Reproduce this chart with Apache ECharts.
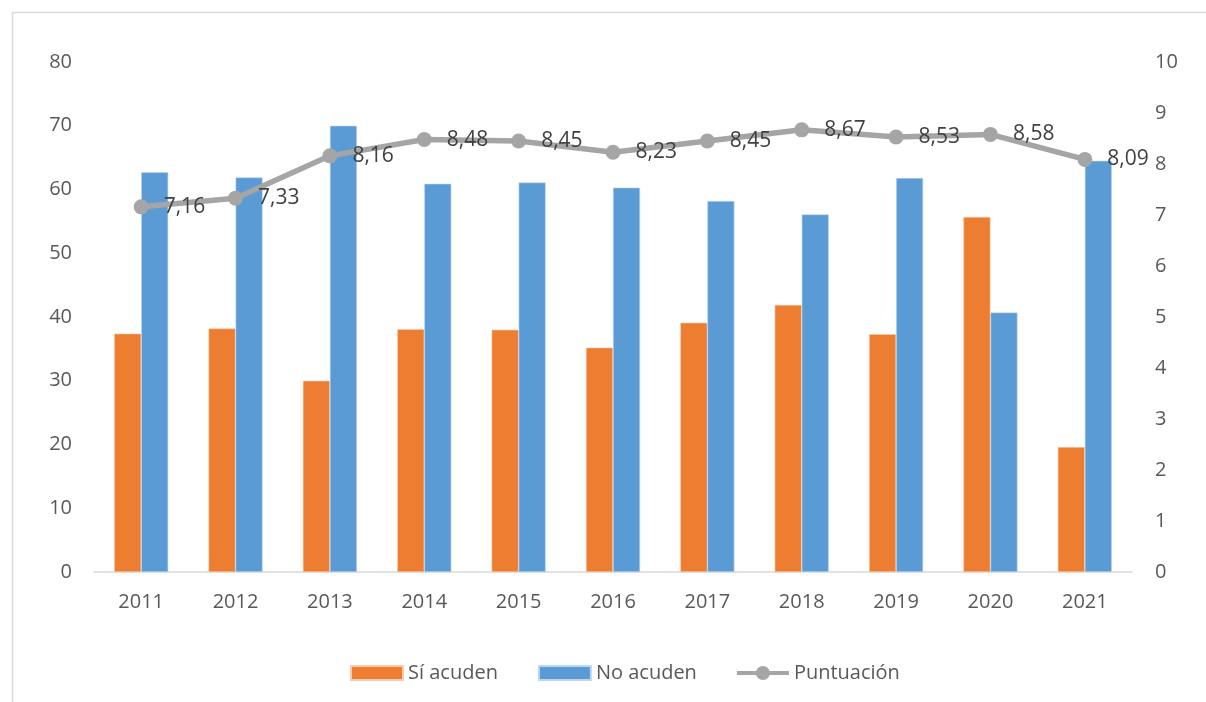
<!DOCTYPE html>
<html>
<head>
<meta charset="utf-8">
<script src="https://cdn.jsdelivr.net/npm/echarts@6/dist/echarts.min.js"></script>
<style>
html,body{margin:0;padding:0;background:#fff;}
#chart{width:1206px;height:702px;}
</style>
</head>
<body>
<div id="chart"></div>
<script>
const years = ['2011','2012','2013','2014','2015','2016','2017','2018','2019','2020','2021'];
const siAcuden = [37.4, 38.2, 30.0, 38.1, 38.0, 35.2, 39.1, 41.9, 37.3, 55.7, 19.6];
const noAcuden = [62.7, 61.9, 70.0, 60.9, 61.1, 60.3, 58.2, 56.1, 61.8, 40.7, 64.5];
const puntuacion = [7.16, 7.33, 8.16, 8.48, 8.45, 8.23, 8.45, 8.67, 8.53, 8.58, 8.09];

const FONT = '"Open Sans", "Liberation Sans", sans-serif';
const lineIcon = 'path://M0,5 L52,5 L52,9 L0,9 Z M26,0 A7,7 0 1,1 26,14 A7,7 0 1,1 26,0 Z';
const chart = echarts.init(document.getElementById('chart'), null, {renderer: 'canvas'});
chart.setOption({
  animation: false,
  backgroundColor: '#ffffff',
  textStyle: {fontFamily: FONT},
  graphic: [{
    type: 'rect', left: 10, top: 10, silent: true,
    shape: {width: 1250, height: 750},
    style: {fill: 'none', stroke: '#D9D9D9', lineWidth: 1.5}
  }],
  grid: {left: 94, right: 74, top: 62, bottom: 130, containLabel: false},
  legend: {
    top: 658,
    left: 345,
    itemWidth: 52,
    itemHeight: 14,
    itemGap: 40,
    textStyle: {fontFamily: FONT, fontSize: 20, color: '#595959'},
    data: [
      {name: 'Sí acuden', icon: 'rect'},
      {name: 'No acuden', icon: 'rect'},
      {name: 'Puntuación', icon: lineIcon, itemStyle: {color: '#A5A5A5'}}
    ]
  },
  xAxis: {
    type: 'category',
    data: years,
    axisLine: {lineStyle: {color: '#D9D9D9', width: 1.5}},
    axisTick: {show: false},
    axisLabel: {fontFamily: FONT, fontSize: 20, color: '#595959', margin: 20}
  },
  yAxis: [{
    type: 'value', min: 0, max: 80, interval: 10,
    splitLine: {show: false},
    axisLine: {show: false}, axisTick: {show: false},
    axisLabel: {fontFamily: FONT, fontSize: 20, color: '#595959', margin: 22}
  }, {
    type: 'value', min: 0, max: 10, interval: 1,
    splitLine: {show: false},
    axisLine: {show: false}, axisTick: {show: false},
    axisLabel: {fontFamily: FONT, fontSize: 20, color: '#595959', margin: 23}
  }],
  series: [{
    name: 'Sí acuden', type: 'bar', data: siAcuden,
    barGap: '0%', barCategoryGap: '42.7%',
    itemStyle: {color: '#ED7D31', borderColor: '#F8CBAD', borderWidth: 0.6}
  }, {
    name: 'No acuden', type: 'bar', data: noAcuden,
    itemStyle: {color: '#5B9BD5', borderColor: '#BDD7EE', borderWidth: 0.6}
  }, {
    name: 'Puntuación', type: 'line', yAxisIndex: 1, data: puntuacion,
    symbol: 'circle', symbolSize: 15,
    lineStyle: {color: '#A5A5A5', width: 5.5},
    itemStyle: {color: '#A5A5A5'},
    label: {
      show: true, position: 'right', distance: 15,
      fontFamily: FONT, fontSize: 21, color: '#404040',
      formatter: p => p.value.toFixed(2).replace('.', ',')
    },
    z: 5
  }]
});
</script>
</body>
</html>
